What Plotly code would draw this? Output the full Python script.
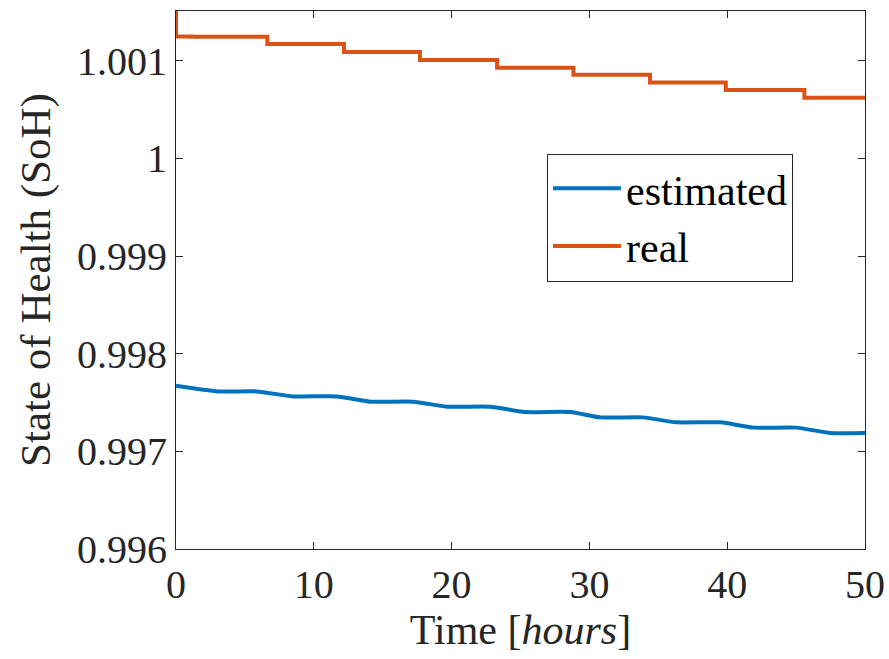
import plotly.graph_objects as go

# ---- data ----
real_t = [0, 0, 1.1, 6.63, 12.19, 17.7, 23.3, 28.84, 34.4, 39.9, 45.6, 50]
real_soh = [1.0016, 1.00125, 1.001245, 1.001171, 1.001089, 1.001007,
            1.000928, 1.000857, 1.000779, 1.0007, 1.000621, 1.000621]

est_t = [0, 3.05, 5.85, 8.5, 11.66, 14.1, 17.2, 19.65, 22.8, 25.3,
         28.6, 30.8, 33.9, 36.3, 39.5, 41.9, 45.0, 47.5, 50]
est_soh = [0.997672, 0.997614, 0.997614, 0.997563, 0.997563, 0.997509,
           0.997509, 0.997458, 0.997458, 0.997403, 0.997403, 0.997348,
           0.997348, 0.997297, 0.997297, 0.997243, 0.997243, 0.997188, 0.997188]

x_ticks = [0, 10, 20, 30, 40, 50]
y_ticks = [0.996, 0.997, 0.998, 0.999, 1.0, 1.001]
y_tick_labels = ["0.996", "0.997", "0.998", "0.999", "1", "1.001"]

BLUE = "#0072BD"
ORANGE = "#D95319"
AX = "#262626"
FONT = "Liberation Serif"

fig = go.Figure()
fig.add_trace(go.Scatter(x=est_t, y=est_soh, mode="lines", name="estimated",
                         line=dict(color=BLUE, width=4, shape="spline", smoothing=0.6)))
fig.add_trace(go.Scatter(x=real_t, y=real_soh, mode="lines", name="real",
                         line=dict(color=ORANGE, width=4, shape="hv")))

axis_common = dict(showline=True, linecolor=AX, linewidth=1, mirror="ticks",
                   ticks="inside", ticklen=7, tickcolor=AX, tickwidth=1,
                   showgrid=False, zeroline=False, automargin=False,
                   tickfont=dict(family=FONT, size=40, color=AX))

fig.update_xaxes(range=[0, 50], tickvals=x_ticks, ticktext=[str(v) for v in x_ticks],
                 title=dict(text="Time [<i>hours</i>]", font=dict(family=FONT, size=42, color=AX), standoff=8),
                 **axis_common)
fig.update_yaxes(range=[0.996, 1.00151], tickvals=y_ticks, ticktext=y_tick_labels,
                 title=dict(text="State of Health (SoH)", font=dict(family=FONT, size=43, color=AX), standoff=12),
                 **axis_common)

fig.update_layout(
    width=889, height=659,
    margin=dict(l=176, r=24, t=11, b=110),
    paper_bgcolor="white", plot_bgcolor="white",
    font=dict(family=FONT, color=AX),
    legend=dict(x=0.5385, y=0.735, xanchor="left", yanchor="top",
                bgcolor="white", bordercolor=AX, borderwidth=1,
                itemwidth=68,
                font=dict(family=FONT, size=42, color="black")),
    showlegend=True,
)

fig.write_html("out.html")
